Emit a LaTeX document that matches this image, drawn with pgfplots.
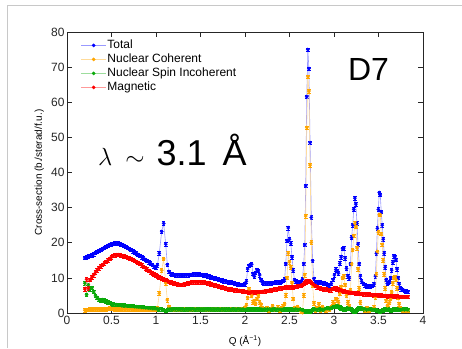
\documentclass[border=0pt]{standalone}
\usepackage{pgfplots}
\pgfplotsset{compat=1.18}
\usepackage{pgfplotstable}
\usepackage{fontspec}
\setmainfont{Liberation Sans}
\definecolor{mblue}{RGB}{0,0,255}
\definecolor{morange}{RGB}{255,165,0}
\definecolor{mgreen}{RGB}{10,170,10}
\definecolor{mred}{RGB}{255,0,0}
\definecolor{frame}{RGB}{200,200,200}

\pgfplotstableread{
Q T C I M
0.20 15.7 0.8 8.5 6.8
0.22 15.9 0.9 5.2 9.6
0.24 16.1 0.9 8.0 7.0
0.26 16.3 1.0 6.8 9.4
0.28 16.5 0.9 7.2 10.2
0.30 16.8 1.0 6.0 10.8
0.32 17.1 1.1 4.9 11.6
0.34 17.4 1.0 4.3 12.2
0.36 17.7 1.1 3.8 12.8
0.38 18.0 1.0 3.7 13.3
0.40 18.3 1.1 3.8 13.7
0.42 18.6 1.2 3.6 14.2
0.44 18.9 1.1 3.3 14.6
0.46 19.2 1.2 3.1 15.0
0.48 19.4 1.3 2.9 15.5
0.50 19.6 1.2 2.7 15.9
0.52 19.7 1.2 2.5 16.3
0.54 19.8 1.1 2.4 16.5
0.56 19.8 1.2 2.4 16.6
0.58 19.8 1.1 2.3 16.6
0.60 19.6 1.2 2.3 16.5
0.62 19.4 1.1 2.2 16.3
0.64 19.2 1.0 2.3 16.1
0.66 18.9 1.1 2.1 16.0
0.68 18.6 1.0 2.0 15.8
0.70 18.3 1.0 2.0 15.6
0.72 18.0 1.1 1.9 15.4
0.74 17.6 1.0 1.9 15.1
0.76 17.3 0.9 1.8 14.9
0.78 17.0 1.0 1.8 14.6
0.80 16.6 0.9 1.7 14.3
0.82 16.3 1.0 1.7 14.0
0.84 15.9 0.9 1.6 13.6
0.86 15.6 0.9 1.6 13.2
0.88 15.2 1.0 1.5 12.8
0.90 14.9 0.9 1.5 12.4
0.92 14.5 1.0 1.4 12.0
0.94 14.1 1.0 1.4 11.6
0.96 13.7 1.1 1.3 11.3
0.98 13.2 1.0 1.3 11.0
1.00 13.0 1.1 1.2 10.7
1.015 13.6 1.3 1.2 10.5
1.037 17.0 5.6 1.1 10.2
1.064 23.2 12.2 1.0 9.9
1.086 25.5 15.4 0.9 9.6
1.109 19.6 8.5 0.6 9.3
1.127 13.8 3.7 0.9 9.1
1.147 11.8 1.8 1.1 8.9
1.167 11.2 1.1 1.1 8.7
1.18 11.0 1.0 1.1 8.6
1.20 10.9 0.9 1.1 8.4
1.22 10.8 1.0 1.1 8.3
1.24 10.7 1.0 1.1 8.2
1.26 10.7 0.9 1.0 8.1
1.28 10.7 1.0 1.1 8.0
1.30 10.7 1.0 1.1 8.1
1.32 10.7 1.1 1.0 8.2
1.34 10.8 1.0 1.1 8.3
1.36 10.8 1.0 1.1 8.4
1.38 10.9 0.9 1.0 8.6
1.40 10.9 1.0 1.1 8.7
1.42 11.0 1.0 1.1 8.8
1.44 11.0 1.1 1.0 8.8
1.46 11.0 1.0 1.1 8.8
1.48 11.0 1.0 1.1 8.8
1.50 10.9 1.0 1.0 8.8
1.52 10.9 1.1 1.1 8.7
1.54 10.8 1.0 1.0 8.7
1.56 10.7 1.0 1.1 8.6
1.58 10.5 0.9 1.0 8.5
1.60 10.4 1.0 1.1 8.4
1.62 10.2 1.0 1.0 8.2
1.64 10.0 1.0 1.0 8.1
1.66 9.9 1.1 1.1 7.9
1.68 9.7 1.0 1.0 7.8
1.70 9.6 1.0 1.1 7.6
1.72 9.4 1.1 1.0 7.5
1.74 9.3 1.0 1.1 7.3
1.76 9.1 1.0 1.0 7.2
1.78 9.0 1.1 1.1 7.0
1.80 8.9 1.0 1.0 6.9
1.82 8.8 1.0 1.1 6.8
1.84 8.7 1.1 1.0 6.7
1.86 8.6 1.0 1.1 6.6
1.88 8.4 1.0 1.0 6.5
1.90 8.3 1.1 1.0 6.5
1.92 8.2 1.0 1.1 6.4
1.94 8.1 1.0 1.0 6.4
1.96 8.0 1.2 1.0 6.3
1.98 8.0 1.1 1.1 6.2
2.00 8.2 1.4 1.0 6.1
2.015 9.0 2.2 1.0 6.0
2.03 12.5 4.4 1.0 6.0
2.045 13.5 6.8 1.1 5.9
2.06 13.8 5.9 1.0 5.9
2.075 13.9 4.9 1.0 5.9
2.09 11.2 3.0 1.1 5.9
2.105 10.4 3.5 1.0 5.9
2.12 11.5 2.6 1.0 5.9
2.135 12.3 4.0 1.1 6.0
2.15 12.0 4.9 1.0 6.0
2.165 10.8 3.0 1.0 6.0
2.18 9.5 2.4 1.1 6.0
2.195 8.7 1.5 1.0 6.1
2.21 8.5 1.0 1.0 6.1
2.23 8.4 1.0 1.0 6.2
2.25 8.4 1.5 1.1 6.3
2.27 8.5 0.8 1.0 6.4
2.29 8.5 1.2 1.0 6.5
2.31 8.6 2.0 1.1 6.6
2.33 8.6 0.9 1.0 6.7
2.35 8.7 1.1 1.0 6.8
2.37 8.7 1.6 1.1 6.9
2.39 8.8 0.8 1.0 7.0
2.41 8.9 1.3 1.0 7.1
2.43 9.2 2.0 1.1 7.2
2.445 9.6 2.6 1.0 7.2
2.458 14.0 5.0 1.0 7.3
2.472 20.6 10.0 1.1 7.3
2.486 24.2 17.0 1.0 7.3
2.50 21.0 14.5 1.0 7.3
2.514 19.8 13.0 1.0 7.4
2.528 15.9 8.5 1.1 7.4
2.542 12.1 4.0 1.0 7.4
2.556 9.4 1.5 1.0 7.5
2.57 9.0 1.0 1.1 7.5
2.59 8.7 1.8 1.0 7.6
2.61 8.6 1.2 1.0 7.7
2.63 8.9 0.5 0.9 7.9
2.645 9.6 0.1 0.8 8.1
2.66 14.0 5.0 0.7 8.4
2.671 19.4 10.8 0.6 8.6
2.682 36.2 27.6 0.5 8.8
2.694 61.6 52.8 0.4 9.0
2.706 75.0 67.3 0.3 9.2
2.718 69.6 63.2 0.4 9.1
2.731 48.5 42.1 0.5 8.9
2.745 27.2 20.1 0.7 8.6
2.76 14.9 7.8 0.9 8.3
2.775 9.8 2.8 1.0 8.0
2.79 8.8 0.8 1.0 7.7
2.81 8.7 1.5 1.0 7.4
2.83 8.9 2.5 1.1 7.2
2.85 8.8 0.8 0.9 7.0
2.87 8.6 1.8 1.0 6.9
2.89 8.5 1.0 1.0 6.8
2.91 8.3 0.6 1.2 6.7
2.93 8.1 1.2 1.3 6.6
2.95 7.9 0.9 1.2 6.5
2.97 8.4 1.8 1.5 6.5
2.99 9.5 3.0 1.8 6.9
3.005 10.8 2.5 1.8 7.2
3.02 12.4 4.0 2.0 7.0
3.035 12.0 3.6 1.9 6.8
3.05 11.3 3.0 1.8 6.7
3.065 14.1 5.5 1.6 6.5
3.08 15.9 7.5 1.4 6.4
3.095 18.3 10.0 1.2 6.3
3.11 18.5 10.5 1.0 6.2
3.125 15.6 8.0 1.0 6.1
3.14 12.7 5.0 1.2 6.0
3.155 10.5 3.0 1.4 5.9
3.17 9.9 2.0 1.3 5.9
3.185 14.0 6.5 1.2 5.8
3.198 21.5 14.0 1.0 5.8
3.21 25.0 18.0 0.8 5.7
3.222 29.5 22.0 0.5 5.7
3.234 32.7 25.5 0.5 5.7
3.246 31.0 24.5 0.6 5.6
3.258 25.5 18.5 0.9 5.6
3.27 19.6 12.5 1.2 5.6
3.283 14.0 7.0 1.4 5.5
3.296 10.5 3.0 1.5 5.5
3.31 9.0 1.5 1.4 5.5
3.33 8.3 1.2 1.2 5.4
3.35 7.9 0.8 1.1 5.4
3.37 7.6 1.5 1.0 5.3
3.39 7.5 0.6 1.0 5.3
3.41 7.6 0.9 1.0 5.2
3.43 7.8 1.0 1.0 5.2
3.45 8.2 1.6 1.0 5.1
3.465 10.5 4.5 0.9 5.1
3.476 17.0 11.0 0.8 5.1
3.487 24.1 17.5 0.7 5.0
3.498 29.5 23.0 0.6 5.0
3.509 34.3 28.0 0.5 5.0
3.52 33.6 28.0 0.5 5.0
3.531 28.8 22.5 0.6 5.0
3.542 25.0 19.5 0.7 4.9
3.553 21.0 15.0 0.8 4.9
3.564 17.0 11.0 0.9 4.9
3.575 13.0 7.0 1.0 4.9
3.587 9.5 3.5 1.0 4.9
3.60 8.4 2.0 1.0 4.8
3.612 8.6 2.5 1.0 4.8
3.624 8.9 3.0 0.9 4.8
3.636 10.0 4.0 0.8 4.8
3.648 12.2 6.0 0.8 4.8
3.66 14.4 8.5 0.9 4.7
3.672 16.2 10.0 1.0 4.7
3.684 16.0 10.3 1.0 4.7
3.696 15.1 9.5 1.0 4.7
3.708 12.5 7.0 1.0 4.7
3.72 10.0 4.5 1.0 4.6
3.732 8.2 2.5 1.0 4.6
3.744 7.2 1.5 1.0 4.6
3.756 6.8 1.0 1.0 4.6
3.77 6.6 0.8 1.0 4.6
3.79 6.4 0.7 0.9 4.6
3.81 6.2 0.8 1.0 4.6
3.83 6.1 0.6 0.9 4.6
}\data

\pgfplotsset{
  mser/.style={
    color=#1!40, line width=0.6bp,
    mark=*, mark size=1.7bp, mark options={draw=#1, fill=#1, line width=0.3bp},
    error bars/.cd, y dir=both, y fixed=0.5,
    error bar style={#1, line width=0.5bp},
    error mark options={rotate=90, #1, mark size=1.8bp, line width=0.5bp},
  },
}

\begin{document}
\begin{tikzpicture}[x=1bp,y=1bp]
\useasboundingbox (0,0) rectangle (462,348);
\draw[frame, line width=1bp] (7.5,0) -- (7.5,342) -- (462,342);
\begin{axis}[
  at={(67bp,35bp)}, anchor=south west,
  scale only axis, width=356bp, height=281bp,
  xmin=0, xmax=4, ymin=0, ymax=80,
  xtick={0,0.5,...,4}, ytick={0,10,...,80},
  tick align=inside, major tick length=5bp,
  axis line style={black!85, line width=0.7bp},
  tick style={black!85, line width=0.7bp},
  /pgf/number format/assume math mode=true,
  ticklabel style={font=\fontsize{12bp}{14bp}\selectfont, text=black!85},
  yticklabel style={xshift=1bp},
  label style={font=\fontsize{12bp}{14bp}\selectfont, text=black!85},
  xlabel={Q (Å\textsuperscript{−1})},
  ylabel={Cross-section (b./sterad/f.u.)},
  every axis x label/.style={at={(axis description cs:0.5,-0.1)}, anchor=center},
  every axis y label/.style={at={(axis description cs:-0.078,0.5)}, rotate=90, anchor=center},
  legend style={at={(axis description cs:0.03,0.985)}, anchor=north west,
    draw=none, fill=none, font=\fontsize{12bp}{14bp}\selectfont,
    nodes={inner sep=1bp, text height=9bp, text depth=3bp}, row sep=0bp},
  legend cell align=left,
  legend image code/.code={\draw[mark repeat=2, mark phase=2] plot coordinates {(0bp,0bp) (12.5bp,0bp) (25bp,0bp)};},
]
\addplot[mser=mblue] table[x=Q, y=T] {\data};
\addlegendentry{Total}
\addplot[mser=morange] table[x=Q, y=C] {\data};
\addlegendentry{Nuclear Coherent}
\addplot[mser=mgreen] table[x=Q, y=I] {\data};
\addlegendentry{Nuclear Spin Incoherent}
\addplot[mser=mred] table[x=Q, y=M] {\data};
\addlegendentry{Magnetic}
\node[anchor=base west, inner sep=0pt, font=\fontsize{36bp}{40bp}\selectfont] at (rel axis cs:0.087,0.5267) {$\lambda$\hspace{3bp} $\sim$\hspace{2bp} 3.1\hspace{6bp} Å};
\node[anchor=base west, inner sep=0pt, font=\fontsize{32bp}{40bp}\selectfont] at (rel axis cs:0.789,0.829) {D7};
\end{axis}
\end{tikzpicture}
\end{document}
